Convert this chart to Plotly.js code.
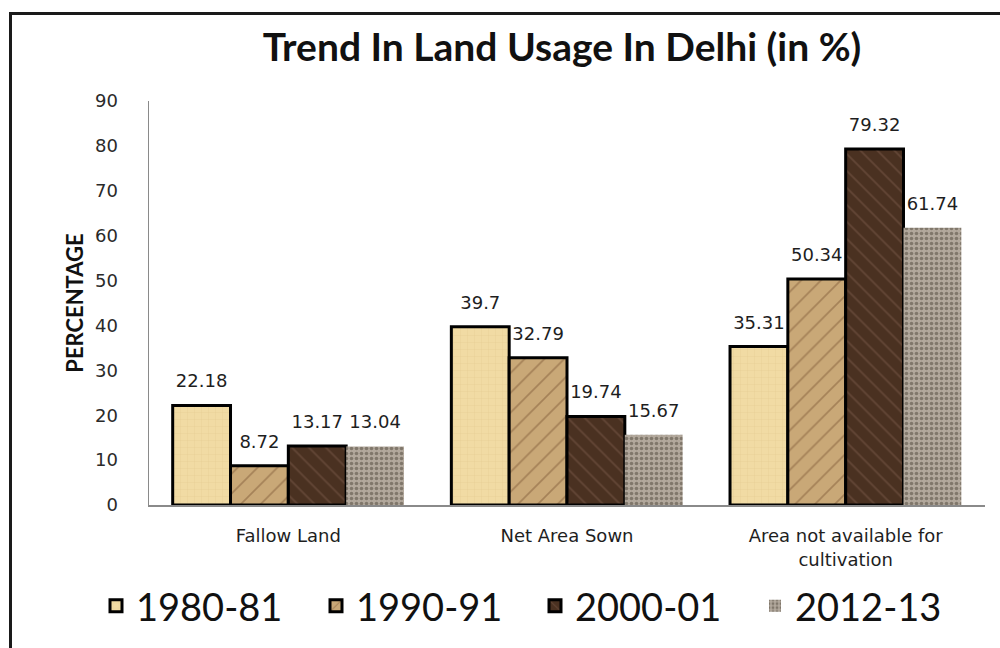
<!DOCTYPE html>
<html>
<head>
<meta charset="utf-8">
<script src="https://cdn.plot.ly/plotly-3.0.1.min.js"></script>
<style>
  html, body { margin: 0; padding: 0; background: #fff; }
  #wrap { position: relative; width: 1000px; height: 648px; overflow: hidden; }
  #chart { position: absolute; left: 0; top: 0; width: 1000px; height: 648px; }
  #frame { position: absolute; left: 9px; top: 12px; width: 1100px; height: 700px;
           border-left: 3px solid #1a1a1a; border-top: 3px solid #1a1a1a; pointer-events: none; }
</style>
</head>
<body>
<div id="wrap">
  <div id="chart"></div>
  <div id="frame"></div>
</div>
<script>
const categories = ["Fallow Land", "Net Area Sown", "Area not available for<br>cultivation"];
const seriesNames = ["1980-81", "1990-91", "2000-01", "2012-13"];
const values1980 = [22.18, 39.7, 35.31];
const values1990 = [8.72, 32.79, 50.34];
const values2000 = [13.17, 19.74, 79.32];
const values2012 = [13.04, 15.67, 61.74];
const yTicks = [0, 10, 20, 30, 40, 50, 60, 70, 80, 90];

const styles = [
  {bg: "#f1dba4", fg: "#e5cd92", shape: "+", size: 7, sol: 0.1, line: 3},
  {bg: "#c9a877", fg: "#a58258", shape: "/", size: 14, sol: 0.12, line: 3},
  {bg: "#4a3121", fg: "#634636", shape: "\\", size: 12, sol: 0.14, line: 3},
  {bg: "#b2a89c", fg: "#80776b", shape: ".", size: 5, sol: 0.4, line: 0}
];
const allValues = [values1980, values1990, values2000, values2012];
const legendIds = ["legend", "legend2", "legend3", "legend4"];
const legendX = [0.096, 0.316, 0.535, 0.755];

const traces = allValues.map((vals, i) => ({
  type: "bar",
  name: seriesNames[i],
  legend: legendIds[i],
  x: categories,
  y: vals,
  text: vals.map(v => "<span style='font-size:18px'>" + String(v) + "</span><br>\u00a0"),
  textposition: "outside",
  constraintext: "none",
  cliponaxis: false,
  textfont: {family: "DejaVu Sans", size: 10, color: "#1e1e1e"},
  hoverinfo: "skip",
  marker: {
    color: styles[i].bg,
    line: {color: "#000", width: styles[i].line},
    pattern: {shape: styles[i].shape, fgcolor: styles[i].fg, bgcolor: styles[i].bg,
              size: styles[i].size, solidity: styles[i].sol}
  }
}));

const layout = {
  width: 1000, height: 648,
  margin: {l: 149, r: 15, t: 101, b: 143, autoexpand: false},
  paper_bgcolor: "#fff", plot_bgcolor: "#fff",
  barmode: "group", bargap: 0.17, bargroupgap: 0,
  showlegend: true,
  title: {
    text: "<b>Trend In Land Usage In Delhi (in %)</b>",
    font: {family: "Lato", size: 39, color: "#111"},
    xref: "container", x: 0.562, xanchor: "center",
    yref: "container", y: 1 - 47/648, yanchor: "middle"
  },
  xaxis: {
    type: "category",
    showline: true, linecolor: "#8a8a8a", linewidth: 1.5,
    showgrid: false, zeroline: false, ticks: "",
    ticklabelstandoff: 14,
    tickfont: {family: "DejaVu Sans", size: 18, color: "#1e1e1e"}
  },
  yaxis: {
    range: [0, 90], tickvals: yTicks, ticktext: yTicks.map(String),
    showline: true, linecolor: "#8a8a8a", linewidth: 1.5,
    showgrid: false, zeroline: false, ticks: "",
    ticklabelstandoff: 26,
    tickfont: {family: "DejaVu Sans", size: 18, color: "#2a2a2a"},
    title: {text: "<b>PERCENTAGE</b>", font: {family: "Lato", size: 22, color: "#111"}, standoff: 5}
  }
};

legendIds.forEach((id, i) => {
  layout[id] = {
    orientation: "h",
    xref: "container", x: legendX[i], xanchor: "left",
    yref: "container", y: 1 - 606/648, yanchor: "middle",
    bgcolor: "rgba(0,0,0,0)",
    font: {family: "Lato", size: 38, color: "#111"}
  };
});

Plotly.newPlot("chart", traces, layout, {displayModeBar: false, staticPlot: true});
</script>
</body>
</html>
